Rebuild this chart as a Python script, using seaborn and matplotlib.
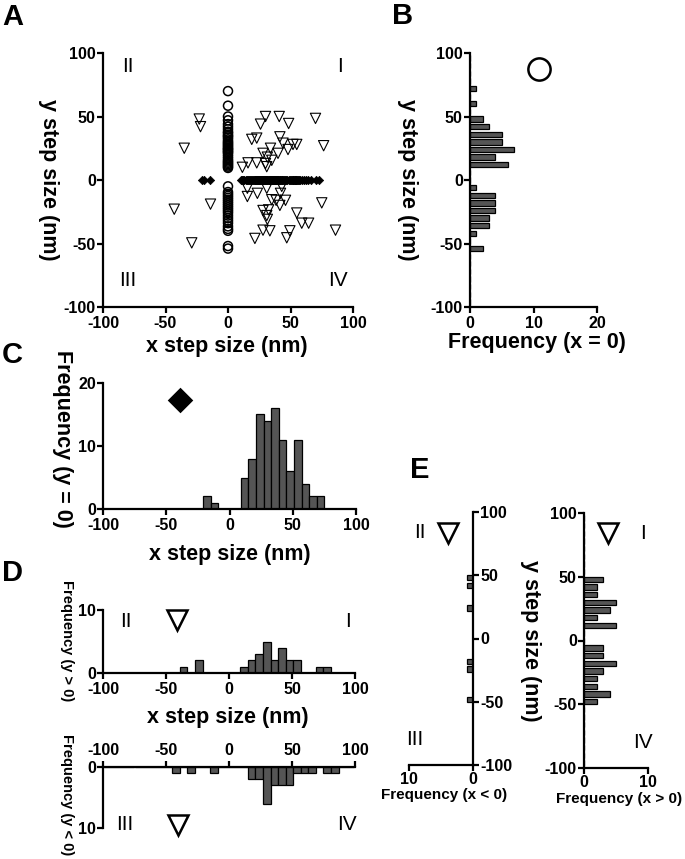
import numpy as np
import pandas as pd
import matplotlib
matplotlib.use("Agg")
import matplotlib.pyplot as plt
import seaborn as sns

# steps with x = 0 (circles), y values in nm
circle_y = [70, 58.5, 50, 47, 44, 42, 40, 38, 37, 35.5, 34.5, 33.5,
            32, 30.5, 29.5, 28.5, 27.5, 26.5, 25.5, 24.5, 24, 23, 22, 21.5,
            20, 18.5, 17, 15.5, 14.5, 13.5, 12.5, 11.5, 10.5, 9.5,
            -5, -9.5, -11, -12.5, -14, -15.5, -17, -18.5, -20,
            -21.5, -23, -24.5, -26, -28, -30, -32, -34, -36.5, -38.5,
            -40, -52, -54]

# steps with y = 0 (diamonds), x values in nm
diamond_x = [-20.5, -19, -14.5,
             10, 11, 12, 13, 14.5,
             15.5, 16, 17, 17.5, 18.5, 19, 20, 20.5,
             21.2, 21.6, 22, 22.4, 22.8, 23.2, 23.6, 24, 24.4, 24.8, 25.2, 25.6, 26, 26.4, 26.8,
             27.2, 27.6, 28, 28.5, 29, 29.4, 29.8, 30.2, 30.6, 31, 31.5, 32, 32.4, 32.8,
             33.2, 33.5, 33.8, 34.2, 34.6, 35, 35.4, 35.8, 36.2, 36.6, 37, 37.4, 37.8, 38.2, 38.5, 38.8,
             39.3, 39.8, 40.3, 40.8, 41.3, 41.8, 42.3, 42.8, 43.4, 44, 44.6,
             45.5, 46.5, 47.5, 48.5, 49.5, 50.5,
             51.2, 51.7, 52.2, 52.7, 53.2, 53.7, 54.2, 54.7, 55.3, 55.9, 56.5,
             57.5, 59, 60.5, 62,
             64, 66.5,
             70, 73]

# off-axis steps (triangles)
tri_x = [-23, -22, -35, -43, -14, -29,
         11.5, 16, 19, 23, 23, 26, 30, 28, 30, 31, 31.5, 34, 35,
         41, 41.5, 44, 40, 48.5, 48, 52, 55, 70, 76.5,
         15.5, 23.5, 31, 15.5, 35, 42, 38.5, 46, 41.5, 28, 32.5, 31,
         31.5, 55, 59, 64.5, 75, 28, 33.5, 21.5, 49.5, 47, 86, 43]
tri_y = [48, 42, 25, -23, -19, -49.5,
         10, 13.5, 32, 33, 13.5, 44, 50, 21, 13, 10.5, 18, 25, 15.5,
         50, 34, 29, 21, 44.5, 24, 28, 28, 48.5, 27,
         -6.5, -10.5, -6.5, -13, -15.5, -10.5, -16, -16, -20, -24, -23.5, -28,
         -31, -26, -34, -34, -18, -39.5, -40, -46, -40, -45.5, -39.5, -5]

tri = pd.DataFrame({"x": tri_x, "y": tri_y})

sns.set_style("ticks")
plt.rcParams["font.family"] = ["Liberation Sans", "DejaVu Sans"]
plt.rcParams["font.weight"] = "bold"
plt.rcParams["axes.labelweight"] = "bold"
plt.rcParams["axes.labelsize"] = 15.5
plt.rcParams["axes.linewidth"] = 1.6
plt.rcParams["axes.edgecolor"] = "black"
plt.rcParams["axes.unicode_minus"] = False
plt.rcParams["text.color"] = "black"
plt.rcParams["axes.labelcolor"] = "black"
for a in ["xtick", "ytick"]:
    plt.rcParams[a + ".labelsize"] = 11.5
    plt.rcParams[a + ".major.width"] = 1.6
    plt.rcParams[a + ".major.size"] = 4
    plt.rcParams[a + ".color"] = "black"
    plt.rcParams[a + ".labelcolor"] = "black"
plt.rcParams["xtick.major.pad"] = 2.5
plt.rcParams["ytick.major.pad"] = 1.2

W, H = 685, 859
fig = plt.figure(figsize=(W / 100, H / 100), dpi=100)


def add_ax(left, top, right, bottom):
    return fig.add_axes([left / W, 1 - bottom / H, (right - left) / W, (bottom - top) / H])


def spines(ax, keep):
    for s in ["left", "right", "top", "bottom"]:
        ax.spines[s].set_visible(s in keep)


def roman(ax, x, y, s):
    ax.text(x, y, s, transform=ax.transAxes, ha="center", va="center",
            fontsize=15, fontweight="normal", clip_on=False)


def symbol(ax, x, y, m, ms, filled=False):
    ax.plot([x], [y], marker=m, ms=ms, mec="black", mew=1.8,
            mfc="black" if filled else "white", transform=ax.transAxes, clip_on=False)


edges = np.arange(-99, 100, 6)
bar = dict(color="#555555", edgecolor="black", linewidth=0.9, alpha=1)
steps = [-100, -50, 0, 50, 100]

# A: scatter of all steps
axA = add_ax(103, 53, 353, 307)
sns.scatterplot(data=tri, x="x", y="y", marker="v", s=55, facecolor="none",
                edgecolor="black", linewidth=0.8, ax=axA)
sns.scatterplot(x=[0] * len(circle_y), y=circle_y, marker="o", s=42, facecolor="none",
                edgecolor="black", linewidth=1.1, ax=axA)
sns.scatterplot(x=diamond_x, y=[0] * len(diamond_x), marker="D", s=18, color="black",
                edgecolor="black", linewidth=0.5, ax=axA)
axA.set_xlim(-100, 100)
axA.set_ylim(-100, 100)
axA.set_xticks(steps)
axA.set_yticks(steps)
axA.set_xlabel("x step size (nm)", va="center")
axA.set_ylabel("y step size (nm)", rotation=270, va="center")
axA.xaxis.set_label_coords(0.496, -0.155)
axA.yaxis.set_label_coords(-0.22, 0.5)
spines(axA, ["left", "bottom"])
roman(axA, 0.1, 0.945, "II")
roman(axA, 0.948, 0.945, "I")
roman(axA, 0.1, 0.106, "III")
roman(axA, 0.94, 0.106, "IV")

# B: y distribution of x = 0 steps
axB = add_ax(470, 53, 597, 307)
sns.histplot(y=circle_y, bins=edges, shrink=0.7, ax=axB, **bar)
axB.set_xlim(0, 20)
axB.set_ylim(-100, 100)
axB.set_xticks([0, 10, 20])
axB.set_yticks(steps)
axB.set_xlabel("Frequency (x = 0)", va="center")
axB.set_ylabel("y step size (nm)", rotation=270, va="center")
axB.xaxis.set_label_coords(0.53, -0.14)
axB.yaxis.set_label_coords(-0.49, 0.5)
spines(axB, ["left", "bottom"])
symbol(axB, 0.543, 0.937, "o", 16)

# C: x distribution of y = 0 steps
axC = add_ax(103, 383, 356, 509)
sns.histplot(x=diamond_x, bins=edges, ax=axC, **bar)
axC.set_xlim(-100, 100)
axC.set_ylim(0, 20)
axC.set_xticks(steps)
axC.set_yticks([0, 10, 20])
axC.set_xlabel("x step size (nm)", va="center")
axC.set_ylabel("Frequency (y = 0)", rotation=270, va="center")
axC.xaxis.set_label_coords(0.5, -0.365)
axC.yaxis.set_label_coords(-0.162, 0.556)
spines(axC, ["left", "bottom"])
symbol(axC, 0.304, 0.865, "D", 11, filled=True)

# D: x distribution of off-axis steps, y > 0 above and y < 0 below
axD1 = add_ax(103, 610, 355, 673)
sns.histplot(x=tri.loc[tri.y > 0, "x"], bins=edges, ax=axD1, **bar)
axD1.set_xlim(-100, 100)
axD1.set_ylim(0, 10)
axD1.set_xticks(steps)
axD1.set_yticks([0, 10])
axD1.set_xlabel("x step size (nm)", va="center")
axD1.set_ylabel("Frequency (y > 0)", rotation=270, va="center", fontsize=10.5)
axD1.xaxis.set_label_coords(0.496, -0.714)
axD1.yaxis.set_label_coords(-0.143, 0.52)
spines(axD1, ["left", "bottom"])
symbol(axD1, 0.294, 0.84, "v", 15)
roman(axD1, 0.091, 0.81, "II")
roman(axD1, 0.972, 0.81, "I")

axD2 = add_ax(103, 767, 355, 828)
sns.histplot(x=tri.loc[tri.y < 0, "x"], bins=edges, ax=axD2, **bar)
axD2.set_xlim(-100, 100)
axD2.set_ylim(10, 0)
axD2.set_xticks(steps)
axD2.set_yticks([0, 10])
axD2.xaxis.tick_top()
axD2.set_xlabel("")
axD2.set_ylabel("Frequency (y < 0)", rotation=270, va="center", fontsize=10.5)
axD2.yaxis.set_label_coords(-0.143, 0.55)
spines(axD2, ["left", "top"])
symbol(axD2, 0.298, 0.05, "v", 15)
roman(axD2, 0.087, 0.05, "III")
roman(axD2, 0.968, 0.05, "IV")

# E: y distribution of off-axis steps, x < 0 left and x > 0 right
axE1 = add_ax(409, 512, 473, 765)
sns.histplot(y=tri.loc[tri.x < 0, "y"], bins=edges, shrink=0.7, ax=axE1, **bar)
axE1.set_xlim(10, 0)
axE1.set_ylim(-100, 100)
axE1.set_xticks([10, 0])
axE1.set_yticks(steps)
axE1.yaxis.tick_right()
axE1.tick_params(axis="x", pad=1)
axE1.set_ylabel("")
axE1.set_xlabel("Frequency (x < 0)", va="center", fontsize=11)
axE1.xaxis.set_label_coords(0.55, -0.118)
spines(axE1, ["right", "bottom"])
symbol(axE1, 0.61, 0.917, "v", 15)
roman(axE1, 0.17, 0.917, "II")
roman(axE1, 0.09, 0.099, "III")

axE2 = add_ax(584, 513, 648, 768)
sns.histplot(y=tri.loc[tri.x > 0, "y"], bins=edges, shrink=0.7, ax=axE2, **bar)
axE2.set_xlim(0, 10)
axE2.set_ylim(-100, 100)
axE2.set_xticks([0, 10])
axE2.set_yticks(steps)
axE2.tick_params(axis="x", pad=1)
axE2.set_xlabel("Frequency (x > 0)", va="center", fontsize=11)
axE2.set_ylabel("y step size (nm)", rotation=270, va="center")
axE2.xaxis.set_label_coords(0.55, -0.12)
axE2.yaxis.set_label_coords(-0.83, 0.5)
spines(axE2, ["left", "bottom"])
symbol(axE2, 0.375, 0.92, "v", 15)
roman(axE2, 0.92, 0.92, "I")
roman(axE2, 0.92, 0.10, "IV")

# panel letters
for s, x, y in [("A", 13, 17), ("B", 403, 16), ("C", 12, 355), ("D", 12, 573), ("E", 420, 470)]:
    fig.text(x / W, 1 - y / H, s, ha="center", va="center", fontsize=21, fontweight="bold")

fig.savefig("out.png", dpi=100)
